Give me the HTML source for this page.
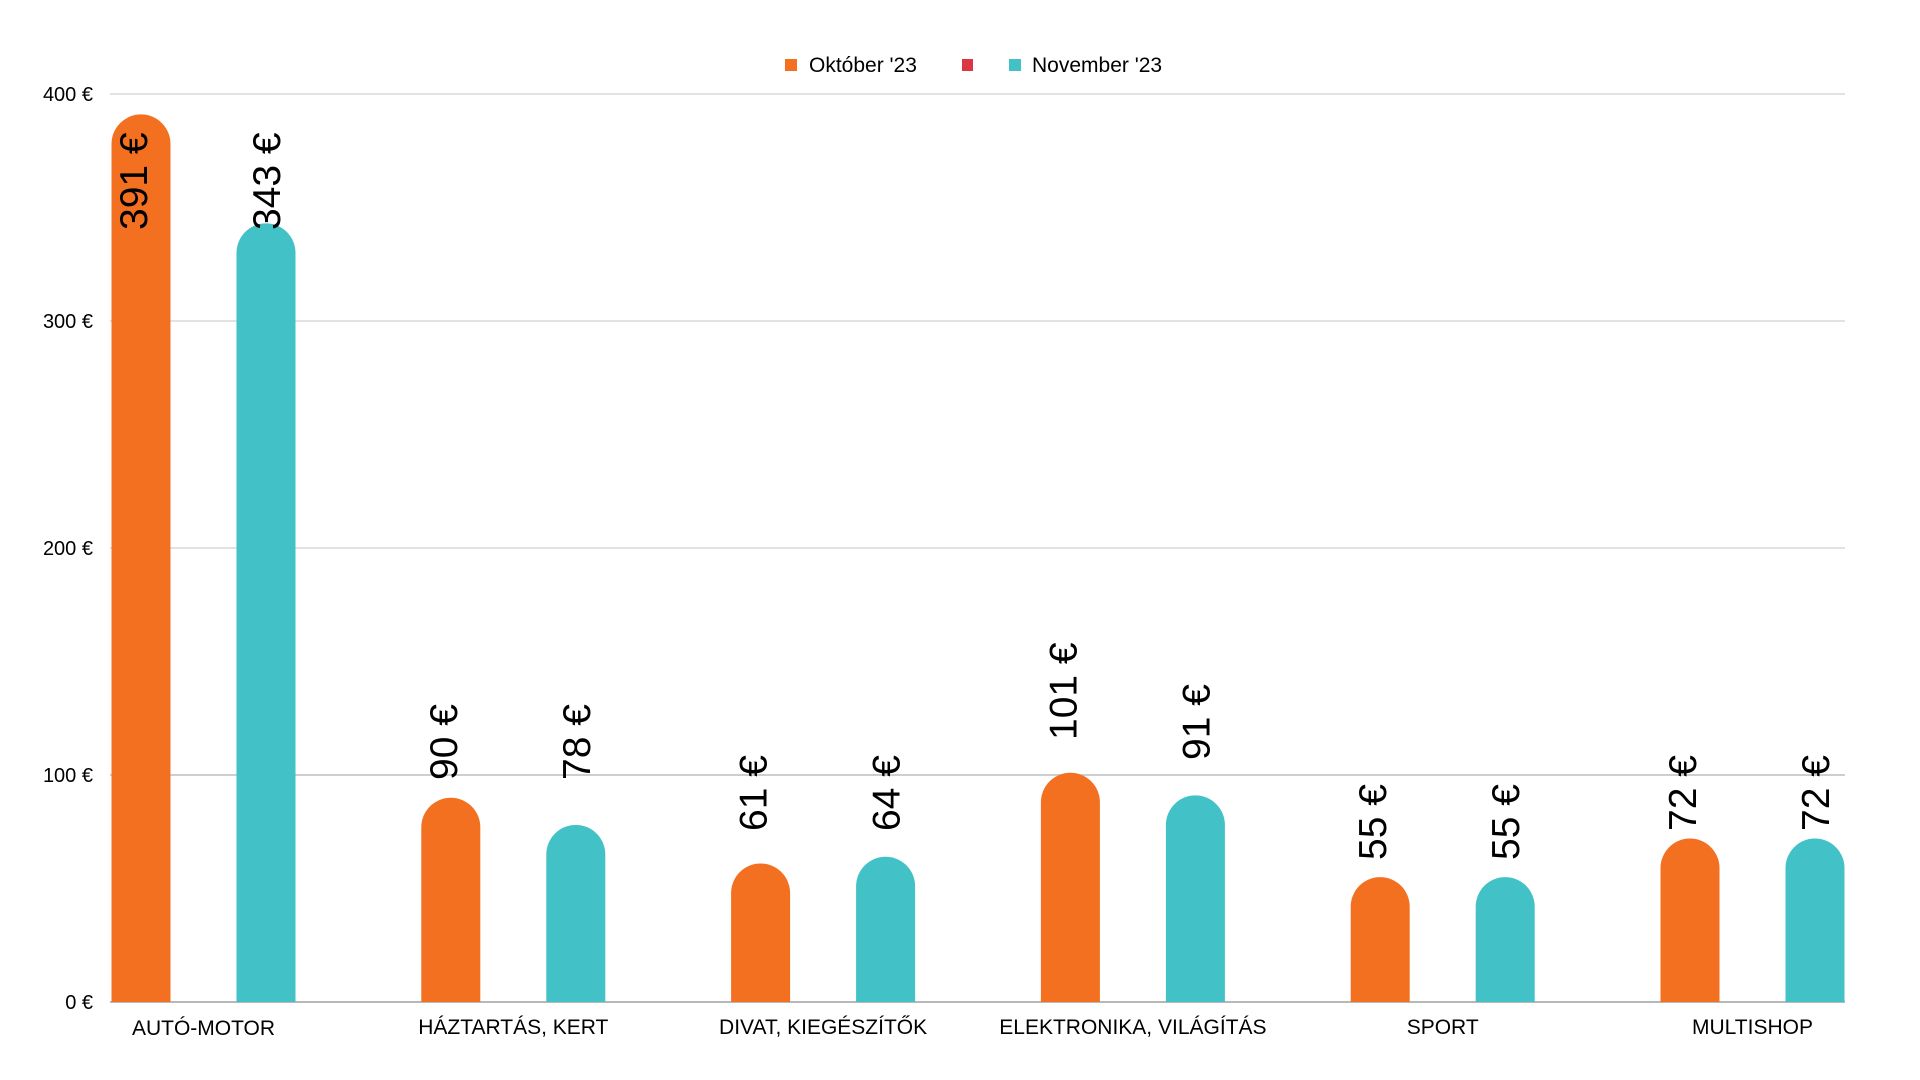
<!DOCTYPE html>
<html><head><meta charset="utf-8"><style>
html,body{margin:0;padding:0;background:#fff;}
svg{display:block;font-family:"Liberation Sans",sans-serif;}
</style></head><body>
<svg width="1920" height="1080" viewBox="0 0 1920 1080">
<rect width="1920" height="1080" fill="#fff"/>
<g stroke="#d9d9d9" stroke-width="1.5">
<line x1="110" x2="1845" y1="94" y2="94"/>
<line x1="110" x2="1845" y1="321" y2="321"/>
<line x1="110" x2="1845" y1="548" y2="548"/>
<line x1="110" x2="1845" y1="775" y2="775" stroke="#bdbdbd"/>
</g>
<line x1="110" x2="1845" y1="1002" y2="1002" stroke="#a0a0a0" stroke-width="1.5"/>
<g font-size="20" fill="#000" text-anchor="end">
<text x="93" y="101">400 €</text>
<text x="93" y="328">300 €</text>
<text x="93" y="555">200 €</text>
<text x="93" y="782">100 €</text>
<text x="93" y="1009">0 €</text>
</g>
<g font-size="21" fill="#000">
<rect x="785" y="59" width="12" height="12" fill="#F37021"/>
<text x="809" y="72">Október '23</text>
<rect x="962" y="59" width="11" height="12" fill="#DC3545"/>
<rect x="1009" y="59" width="12" height="12" fill="#42C1C7"/>
<text x="1032" y="72">November '23</text>
</g>
<g id="bars"></g>
<g id="labels" font-size="39" fill="#000"></g>
<g id="cats" font-size="21" fill="#000" text-anchor="middle"></g>
</svg>
<script>
var ns="http://www.w3.org/2000/svg";
var data=[["AUTÓ-MOTOR",391,343,230,230],["HÁZTARTÁS, KERT",90,78,780,780],["DIVAT, KIEGÉSZÍTŐK",61,64,831,831],["ELEKTRONIKA, VILÁGÍTÁS",101,91,740,760],["SPORT",55,55,860,860],["MULTISHOP",72,72,831,831]];
var bars=document.getElementById("bars"),labels=document.getElementById("labels"),cats=document.getElementById("cats");
function Y(v){return 1002-v*2.27;}
function bar(x,v,col,sy,off){
 var w=59,r=29.5,top=Y(v);
 var p=document.createElementNS(ns,"path");
 p.setAttribute("d","M"+x+",1002 L"+x+","+(top+r)+" A"+r+","+r+" 0 0 1 "+(x+w)+","+(top+r)+" L"+(x+w)+",1002 Z");
 p.setAttribute("fill",col);bars.appendChild(p);
 var t=document.createElementNS(ns,"text");
 var cx=x+w/2+off;
 t.setAttribute("transform","translate("+cx+","+sy+") rotate(-90)");
 t.textContent=v+" €";labels.appendChild(t);
}
data.forEach(function(d,i){
 var ox=111.5+i*309.8;
 bar(ox,d[1],"#F37021",d[3],6);
 bar(ox+125,d[2],"#42C1C7",d[4],14);
 var t=document.createElementNS(ns,"text");
 t.setAttribute("x",ox+92);t.setAttribute("y",i==0?1035:1034);
 t.textContent=d[0];cats.appendChild(t);
});
</script>
</body></html>
